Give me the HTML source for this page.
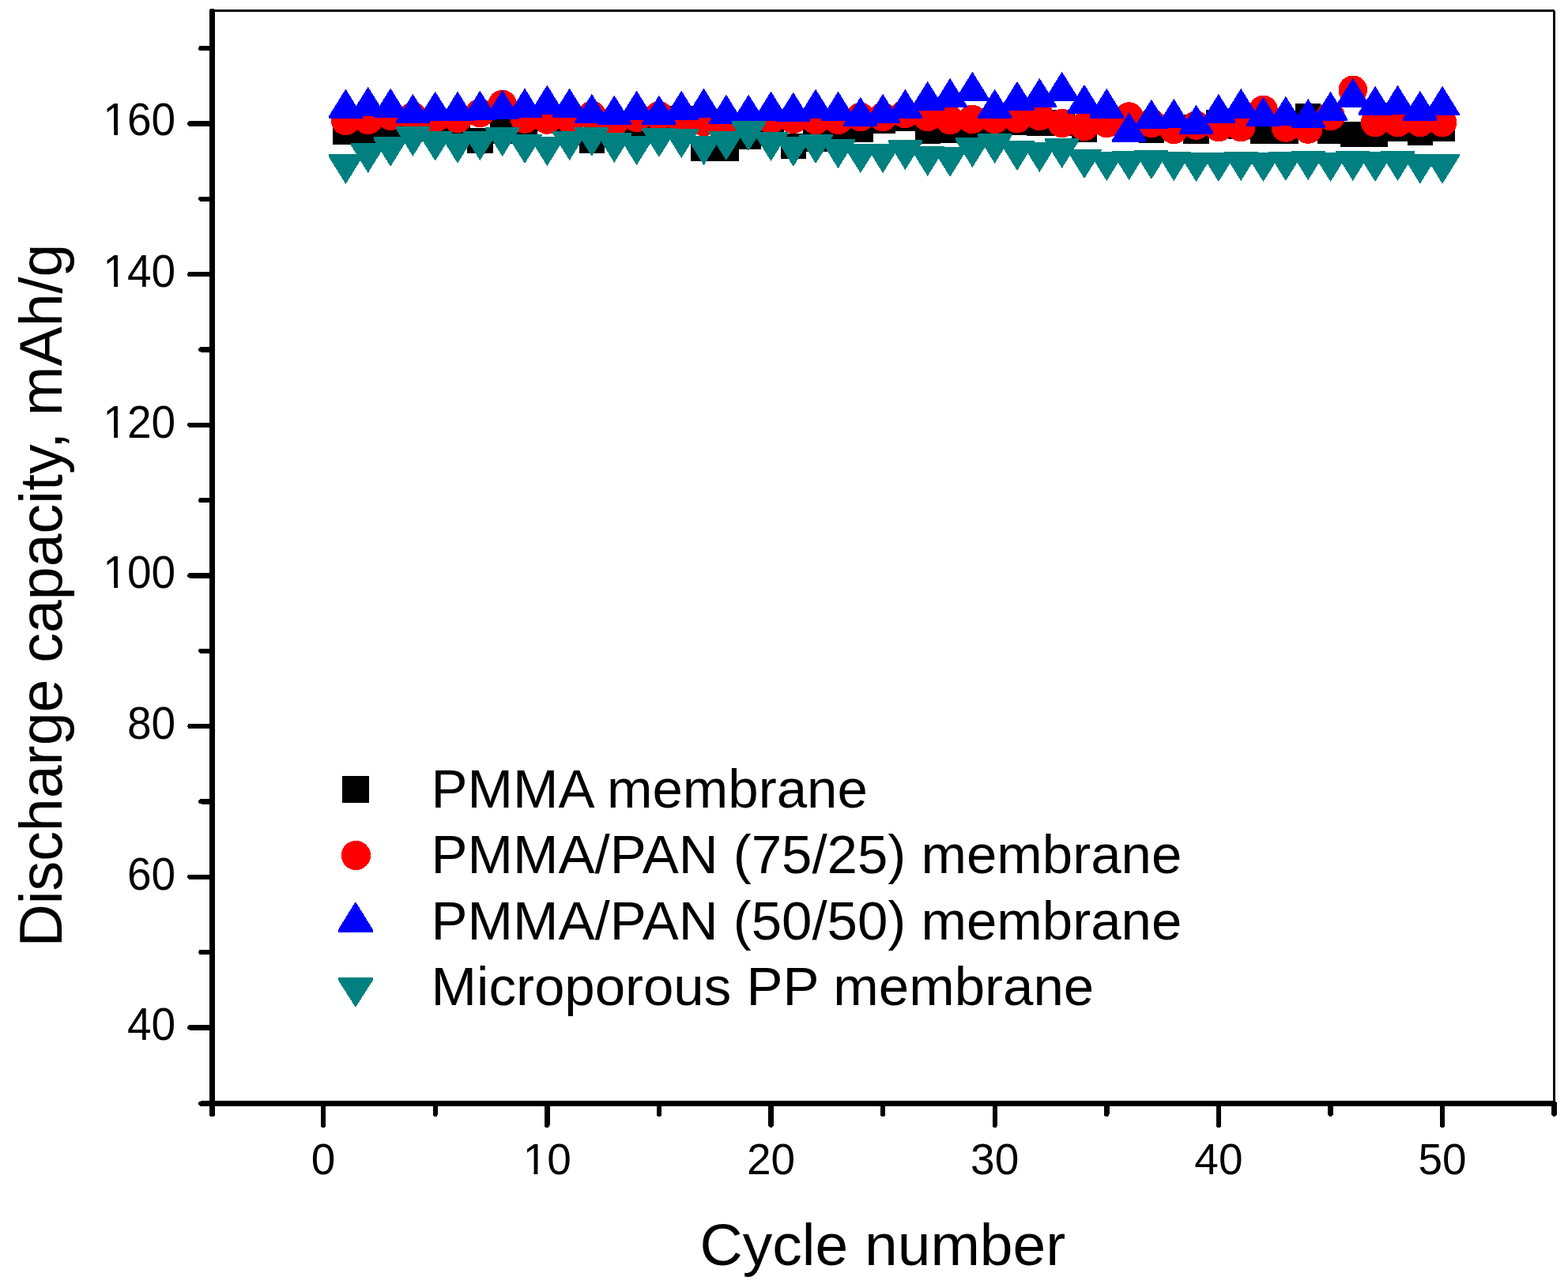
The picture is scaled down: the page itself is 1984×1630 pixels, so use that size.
<!DOCTYPE html>
<html><head><meta charset="utf-8"><title>Discharge capacity vs cycle number</title>
<style>html,body{margin:0;padding:0;background:#fff;}svg{display:block;}</style></head>
<body><svg width="1984" height="1630" viewBox="0 0 1984 1630">
<rect width="1984" height="1630" fill="#fff"/>
<g shape-rendering="crispEdges">
<g fill="#000"><rect x="421.2" y="150.5" width="32.4" height="32.4"/><rect x="449.5" y="149.8" width="32.4" height="32.4"/><rect x="477.9" y="148.8" width="32.4" height="32.4"/><rect x="506.2" y="146.8" width="32.4" height="32.4"/><rect x="534.5" y="146.8" width="32.4" height="32.4"/><rect x="562.8" y="147.8" width="32.4" height="32.4"/><rect x="591.1" y="161.6" width="32.4" height="32.4"/><rect x="619.5" y="149.8" width="32.4" height="32.4"/><rect x="647.8" y="146.8" width="32.4" height="32.4"/><rect x="676.1" y="133.8" width="32.4" height="32.4"/><rect x="704.4" y="146.8" width="32.4" height="32.4"/><rect x="732.7" y="161.6" width="32.4" height="32.4"/><rect x="761.1" y="141.8" width="32.4" height="32.4"/><rect x="789.4" y="146.8" width="32.4" height="32.4"/><rect x="817.7" y="143.8" width="32.4" height="32.4"/><rect x="846" y="133.8" width="32.4" height="32.4"/><rect x="874.3" y="171.5" width="32.4" height="32.4"/><rect x="902.7" y="171.5" width="32.4" height="32.4"/><rect x="931" y="156.6" width="32.4" height="32.4"/><rect x="959.3" y="148.8" width="32.4" height="32.4"/><rect x="987.6" y="168.8" width="32.4" height="32.4"/><rect x="1015.9" y="159.6" width="32.4" height="32.4"/><rect x="1044.3" y="143.8" width="32.4" height="32.4"/><rect x="1072.6" y="147.5" width="32.4" height="32.4"/><rect x="1100.9" y="136.4" width="32.4" height="32.4"/><rect x="1129.2" y="134" width="32.4" height="32.4"/><rect x="1157.5" y="149.6" width="32.4" height="32.4"/><rect x="1185.9" y="148.6" width="32.4" height="32.4"/><rect x="1214.2" y="143.8" width="32.4" height="32.4"/><rect x="1242.5" y="143.8" width="32.4" height="32.4"/><rect x="1270.8" y="138.5" width="32.4" height="32.4"/><rect x="1299.1" y="139.3" width="32.4" height="32.4"/><rect x="1327.5" y="139.1" width="32.4" height="32.4"/><rect x="1355.8" y="147.6" width="32.4" height="32.4"/><rect x="1384.1" y="136.8" width="32.4" height="32.4"/><rect x="1412.4" y="143.8" width="32.4" height="32.4"/><rect x="1440.7" y="148.6" width="32.4" height="32.4"/><rect x="1469.1" y="144.8" width="32.4" height="32.4"/><rect x="1497.4" y="149.6" width="32.4" height="32.4"/><rect x="1525.7" y="138.8" width="32.4" height="32.4"/><rect x="1554" y="143.8" width="32.4" height="32.4"/><rect x="1582.3" y="149.6" width="32.4" height="32.4"/><rect x="1610.7" y="149.6" width="32.4" height="32.4"/><rect x="1639" y="130.8" width="32.4" height="32.4"/><rect x="1667.3" y="149.6" width="32.4" height="32.4"/><rect x="1695.6" y="153.8" width="32.4" height="32.4"/><rect x="1723.9" y="153.5" width="32.4" height="32.4"/><rect x="1752.3" y="146.1" width="32.4" height="32.4"/><rect x="1780.6" y="151.6" width="32.4" height="32.4"/><rect x="1808.9" y="146.6" width="32.4" height="32.4"/></g>
<g fill="#ff0000"><circle cx="437.4" cy="152.9" r="18.3"/><circle cx="465.7" cy="151.9" r="18.3"/><circle cx="494.1" cy="146.6" r="18.3"/><circle cx="522.4" cy="147.5" r="18.3"/><circle cx="550.7" cy="149.5" r="18.3"/><circle cx="579" cy="150" r="18.3"/><circle cx="607.3" cy="143" r="18.3"/><circle cx="635.7" cy="132" r="18.3"/><circle cx="664" cy="150.5" r="18.3"/><circle cx="692.3" cy="151.5" r="18.3"/><circle cx="720.6" cy="150.5" r="18.3"/><circle cx="748.9" cy="146" r="18.3"/><circle cx="777.3" cy="154" r="18.3"/><circle cx="805.6" cy="149" r="18.3"/><circle cx="833.9" cy="146.5" r="18.3"/><circle cx="862.2" cy="152" r="18.3"/><circle cx="890.5" cy="154" r="18.3"/><circle cx="918.9" cy="155" r="18.3"/><circle cx="947.2" cy="155" r="18.3"/><circle cx="975.5" cy="151" r="18.3"/><circle cx="1003.8" cy="150.9" r="18.3"/><circle cx="1032.1" cy="151.9" r="18.3"/><circle cx="1060.5" cy="151.9" r="18.3"/><circle cx="1088.8" cy="148" r="18.3"/><circle cx="1117.1" cy="148" r="18.3"/><circle cx="1145.4" cy="144" r="18.3"/><circle cx="1173.7" cy="148" r="18.3"/><circle cx="1202.1" cy="152" r="18.3"/><circle cx="1230.4" cy="151" r="18.3"/><circle cx="1258.7" cy="151" r="18.3"/><circle cx="1287" cy="150" r="18.3"/><circle cx="1315.3" cy="147" r="18.3"/><circle cx="1343.7" cy="156" r="18.3"/><circle cx="1372" cy="160" r="18.3"/><circle cx="1400.3" cy="156" r="18.3"/><circle cx="1428.6" cy="147.6" r="18.3"/><circle cx="1456.9" cy="156" r="18.3"/><circle cx="1485.3" cy="164" r="18.3"/><circle cx="1513.6" cy="158.5" r="18.3"/><circle cx="1541.9" cy="161" r="18.3"/><circle cx="1570.2" cy="161" r="18.3"/><circle cx="1598.5" cy="139" r="18.3"/><circle cx="1626.9" cy="161.5" r="18.3"/><circle cx="1655.2" cy="163.5" r="18.3"/><circle cx="1683.5" cy="147" r="18.3"/><circle cx="1711.8" cy="113.8" r="18.3"/><circle cx="1740.1" cy="155" r="18.3"/><circle cx="1768.5" cy="155" r="18.3"/><circle cx="1796.8" cy="155" r="18.3"/><circle cx="1825.1" cy="155" r="18.3"/></g>
<g fill="#0000ff"><path d="M437.4 112.6L458.9 147.3L458.9 150.2L415.9 150.2L415.9 147.3Z"/><path d="M465.7 109.8L487.2 144.5L487.2 147.4L444.2 147.4L444.2 144.5Z"/><path d="M494.1 111.6L515.6 146.3L515.6 149.2L472.6 149.2L472.6 146.3Z"/><path d="M522.4 118.8L543.9 153.5L543.9 156.4L500.9 156.4L500.9 153.5Z"/><path d="M550.7 115.6L572.2 150.3L572.2 153.2L529.2 153.2L529.2 150.3Z"/><path d="M579 115.6L600.5 150.3L600.5 153.2L557.5 153.2L557.5 150.3Z"/><path d="M607.3 114.6L628.8 149.3L628.8 152.2L585.8 152.2L585.8 149.3Z"/><path d="M635.7 113.8L657.2 148.5L657.2 151.4L614.2 151.4L614.2 148.5Z"/><path d="M664 111.6L685.5 146.3L685.5 149.2L642.5 149.2L642.5 146.3Z"/><path d="M692.3 107.7L713.8 142.4L713.8 145.3L670.8 145.3L670.8 142.4Z"/><path d="M720.6 111.6L742.1 146.3L742.1 149.2L699.1 149.2L699.1 146.3Z"/><path d="M748.9 118.8L770.4 153.5L770.4 156.4L727.4 156.4L727.4 153.5Z"/><path d="M777.3 120.6L798.8 155.3L798.8 158.2L755.8 158.2L755.8 155.3Z"/><path d="M805.6 114.6L827.1 149.3L827.1 152.2L784.1 152.2L784.1 149.3Z"/><path d="M833.9 120.6L855.4 155.3L855.4 158.2L812.4 158.2L812.4 155.3Z"/><path d="M862.2 114.6L883.7 149.3L883.7 152.2L840.7 152.2L840.7 149.3Z"/><path d="M890.5 111.6L912 146.3L912 149.2L869 149.2L869 146.3Z"/><path d="M918.9 119.6L940.4 154.3L940.4 157.2L897.4 157.2L897.4 154.3Z"/><path d="M947.2 119.6L968.7 154.3L968.7 157.2L925.7 157.2L925.7 154.3Z"/><path d="M975.5 115.6L997 150.3L997 153.2L954 153.2L954 150.3Z"/><path d="M1003.8 116.6L1025.3 151.3L1025.3 154.2L982.3 154.2L982.3 151.3Z"/><path d="M1032.1 112.6L1053.6 147.3L1053.6 150.2L1010.6 150.2L1010.6 147.3Z"/><path d="M1060.5 115.6L1082 150.3L1082 153.2L1039 153.2L1039 150.3Z"/><path d="M1088.8 122.7L1110.3 157.4L1110.3 160.3L1067.3 160.3L1067.3 157.4Z"/><path d="M1117.1 118.6L1138.6 153.3L1138.6 156.2L1095.6 156.2L1095.6 153.3Z"/><path d="M1145.4 112.7L1166.9 147.4L1166.9 150.3L1123.9 150.3L1123.9 147.4Z"/><path d="M1173.7 102.8L1195.2 137.5L1195.2 140.4L1152.2 140.4L1152.2 137.5Z"/><path d="M1202.1 98.8L1223.6 133.5L1223.6 136.4L1180.6 136.4L1180.6 133.5Z"/><path d="M1230.4 90.7L1251.9 125.4L1251.9 128.3L1208.9 128.3L1208.9 125.4Z"/><path d="M1258.7 112.7L1280.2 147.4L1280.2 150.3L1237.2 150.3L1237.2 147.4Z"/><path d="M1287 102.8L1308.5 137.5L1308.5 140.4L1265.5 140.4L1265.5 137.5Z"/><path d="M1315.3 98.8L1336.8 133.5L1336.8 136.4L1293.8 136.4L1293.8 133.5Z"/><path d="M1343.7 90.7L1365.2 125.4L1365.2 128.3L1322.2 128.3L1322.2 125.4Z"/><path d="M1372 106.8L1393.5 141.5L1393.5 144.4L1350.5 144.4L1350.5 141.5Z"/><path d="M1400.3 111.9L1421.8 146.6L1421.8 149.5L1378.8 149.5L1378.8 146.6Z"/><path d="M1428.6 142.1L1450.1 176.8L1450.1 179.7L1407.1 179.7L1407.1 176.8Z"/><path d="M1456.9 125.8L1478.4 160.5L1478.4 163.4L1435.4 163.4L1435.4 160.5Z"/><path d="M1485.3 124.8L1506.8 159.5L1506.8 162.4L1463.8 162.4L1463.8 159.5Z"/><path d="M1513.6 132.5L1535.1 167.2L1535.1 170.1L1492.1 170.1L1492.1 167.2Z"/><path d="M1541.9 118.7L1563.4 153.4L1563.4 156.3L1520.4 156.3L1520.4 153.4Z"/><path d="M1570.2 111.9L1591.7 146.6L1591.7 149.5L1548.7 149.5L1548.7 146.6Z"/><path d="M1598.5 122.7L1620 157.4L1620 160.3L1577 160.3L1577 157.4Z"/><path d="M1626.9 121.7L1648.4 156.4L1648.4 159.3L1605.4 159.3L1605.4 156.4Z"/><path d="M1655.2 124.8L1676.7 159.5L1676.7 162.4L1633.7 162.4L1633.7 159.5Z"/><path d="M1683.5 115.7L1705 150.4L1705 153.3L1662 153.3L1662 150.4Z"/><path d="M1711.8 98.8L1733.3 133.5L1733.3 136.4L1690.3 136.4L1690.3 133.5Z"/><path d="M1740.1 108.8L1761.6 143.5L1761.6 146.4L1718.6 146.4L1718.6 143.5Z"/><path d="M1768.5 107.8L1790 142.5L1790 145.4L1747 145.4L1747 142.5Z"/><path d="M1796.8 114.9L1818.3 149.6L1818.3 152.5L1775.3 152.5L1775.3 149.6Z"/><path d="M1825.1 108.8L1846.6 143.5L1846.6 146.4L1803.6 146.4L1803.6 143.5Z"/></g>
<g fill="#008080"><path d="M437.4 233L458.9 198.3L458.9 195.4L415.9 195.4L415.9 198.3Z"/><path d="M465.7 218.9L487.2 184.2L487.2 181.3L444.2 181.3L444.2 184.2Z"/><path d="M494.1 210.9L515.6 176.2L515.6 173.3L472.6 173.3L472.6 176.2Z"/><path d="M522.4 197.8L543.9 163.1L543.9 160.2L500.9 160.2L500.9 163.1Z"/><path d="M550.7 203.8L572.2 169.1L572.2 166.2L529.2 166.2L529.2 169.1Z"/><path d="M579 206.8L600.5 172.1L600.5 169.2L557.5 169.2L557.5 172.1Z"/><path d="M607.3 203.1L628.8 168.4L628.8 165.5L585.8 165.5L585.8 168.4Z"/><path d="M635.7 198.1L657.2 163.4L657.2 160.5L614.2 160.5L614.2 163.4Z"/><path d="M664 207.1L685.5 172.4L685.5 169.5L642.5 169.5L642.5 172.4Z"/><path d="M692.3 210.2L713.8 175.5L713.8 172.6L670.8 172.6L670.8 175.5Z"/><path d="M720.6 203.1L742.1 168.4L742.1 165.5L699.1 165.5L699.1 168.4Z"/><path d="M748.9 198.1L770.4 163.4L770.4 160.5L727.4 160.5L727.4 163.4Z"/><path d="M777.3 205.9L798.8 171.2L798.8 168.3L755.8 168.3L755.8 171.2Z"/><path d="M805.6 209.2L827.1 174.5L827.1 171.6L784.1 171.6L784.1 174.5Z"/><path d="M833.9 199.1L855.4 164.4L855.4 161.5L812.4 161.5L812.4 164.4Z"/><path d="M862.2 200.1L883.7 165.4L883.7 162.5L840.7 162.5L840.7 165.4Z"/><path d="M890.5 209.2L912 174.5L912 171.6L869 171.6L869 174.5Z"/><path d="M918.9 203.1L940.4 168.4L940.4 165.5L897.4 165.5L897.4 168.4Z"/><path d="M947.2 191L968.7 156.3L968.7 153.4L925.7 153.4L925.7 156.3Z"/><path d="M975.5 204.1L997 169.4L997 166.5L954 166.5L954 169.4Z"/><path d="M1003.8 210.9L1025.3 176.2L1025.3 173.3L982.3 173.3L982.3 176.2Z"/><path d="M1032.1 207.1L1053.6 172.4L1053.6 169.5L1010.6 169.5L1010.6 172.4Z"/><path d="M1060.5 213.2L1082 178.5L1082 175.6L1039 175.6L1039 178.5Z"/><path d="M1088.8 219.2L1110.3 184.5L1110.3 181.6L1067.3 181.6L1067.3 184.5Z"/><path d="M1117.1 219.2L1138.6 184.5L1138.6 181.6L1095.6 181.6L1095.6 184.5Z"/><path d="M1145.4 215L1166.9 180.3L1166.9 177.4L1123.9 177.4L1123.9 180.3Z"/><path d="M1173.7 223L1195.2 188.3L1195.2 185.4L1152.2 185.4L1152.2 188.3Z"/><path d="M1202.1 224L1223.6 189.3L1223.6 186.4L1180.6 186.4L1180.6 189.3Z"/><path d="M1230.4 212L1251.9 177.3L1251.9 174.4L1208.9 174.4L1208.9 177.3Z"/><path d="M1258.7 206.9L1280.2 172.2L1280.2 169.3L1237.2 169.3L1237.2 172.2Z"/><path d="M1287 216L1308.5 181.3L1308.5 178.4L1265.5 178.4L1265.5 181.3Z"/><path d="M1315.3 218L1336.8 183.3L1336.8 180.4L1293.8 180.4L1293.8 183.3Z"/><path d="M1343.7 213L1365.2 178.3L1365.2 175.4L1322.2 175.4L1322.2 178.3Z"/><path d="M1372 226.1L1393.5 191.4L1393.5 188.5L1350.5 188.5L1350.5 191.4Z"/><path d="M1400.3 229.1L1421.8 194.4L1421.8 191.5L1378.8 191.5L1378.8 194.4Z"/><path d="M1428.6 228.1L1450.1 193.4L1450.1 190.5L1407.1 190.5L1407.1 193.4Z"/><path d="M1456.9 227.1L1478.4 192.4L1478.4 189.5L1435.4 189.5L1435.4 192.4Z"/><path d="M1485.3 229.1L1506.8 194.4L1506.8 191.5L1463.8 191.5L1463.8 194.4Z"/><path d="M1513.6 230.1L1535.1 195.4L1535.1 192.5L1492.1 192.5L1492.1 195.4Z"/><path d="M1541.9 230.1L1563.4 195.4L1563.4 192.5L1520.4 192.5L1520.4 195.4Z"/><path d="M1570.2 229.1L1591.7 194.4L1591.7 191.5L1548.7 191.5L1548.7 194.4Z"/><path d="M1598.5 230.1L1620 195.4L1620 192.5L1577 192.5L1577 195.4Z"/><path d="M1626.9 229.1L1648.4 194.4L1648.4 191.5L1605.4 191.5L1605.4 194.4Z"/><path d="M1655.2 228.1L1676.7 193.4L1676.7 190.5L1633.7 190.5L1633.7 193.4Z"/><path d="M1683.5 230.1L1705 195.4L1705 192.5L1662 192.5L1662 195.4Z"/><path d="M1711.8 229L1733.3 194.3L1733.3 191.4L1690.3 191.4L1690.3 194.3Z"/><path d="M1740.1 230L1761.6 195.3L1761.6 192.4L1718.6 192.4L1718.6 195.3Z"/><path d="M1768.5 229L1790 194.3L1790 191.4L1747 191.4L1747 194.3Z"/><path d="M1796.8 232.7L1818.3 198L1818.3 195.1L1775.3 195.1L1775.3 198Z"/><path d="M1825.1 232.7L1846.6 198L1846.6 195.1L1803.6 195.1L1803.6 198Z"/></g>
</g>
<g stroke="#000" fill="none" shape-rendering="crispEdges"><line x1="268.5" y1="13.5" x2="1966.5" y2="13.5" stroke-width="3"/><line x1="1966.5" y1="13.5" x2="1966.5" y2="1396.6" stroke-width="3"/><line x1="268.5" y1="14" x2="268.5" y2="1410" stroke-width="6.6" stroke-linecap="round"/><line x1="268.5" y1="1396.6" x2="1968" y2="1396.6" stroke-width="6.6"/><line x1="254.5" y1="1396.6" x2="268.5" y2="1396.6" stroke-width="6.4" stroke-linecap="round"/><line x1="240.5" y1="1300.3" x2="268.5" y2="1300.3" stroke-width="6.4" stroke-linecap="round"/><line x1="254.5" y1="1205" x2="268.5" y2="1205" stroke-width="6.4" stroke-linecap="round"/><line x1="240.5" y1="1109.7" x2="268.5" y2="1109.7" stroke-width="6.4" stroke-linecap="round"/><line x1="254.5" y1="1014.3" x2="268.5" y2="1014.3" stroke-width="6.4" stroke-linecap="round"/><line x1="240.5" y1="919" x2="268.5" y2="919" stroke-width="6.4" stroke-linecap="round"/><line x1="254.5" y1="823.7" x2="268.5" y2="823.7" stroke-width="6.4" stroke-linecap="round"/><line x1="240.5" y1="728.4" x2="268.5" y2="728.4" stroke-width="6.4" stroke-linecap="round"/><line x1="254.5" y1="633.1" x2="268.5" y2="633.1" stroke-width="6.4" stroke-linecap="round"/><line x1="240.5" y1="537.8" x2="268.5" y2="537.8" stroke-width="6.4" stroke-linecap="round"/><line x1="254.5" y1="442.4" x2="268.5" y2="442.4" stroke-width="6.4" stroke-linecap="round"/><line x1="240.5" y1="347.1" x2="268.5" y2="347.1" stroke-width="6.4" stroke-linecap="round"/><line x1="254.5" y1="251.8" x2="268.5" y2="251.8" stroke-width="6.4" stroke-linecap="round"/><line x1="240.5" y1="156.5" x2="268.5" y2="156.5" stroke-width="6.4" stroke-linecap="round"/><line x1="254.5" y1="61.1" x2="268.5" y2="61.1" stroke-width="6.4" stroke-linecap="round"/><line x1="409.1" y1="1396.6" x2="409.1" y2="1423.8" stroke-width="6.4" stroke-linecap="round"/><line x1="550.7" y1="1396.6" x2="550.7" y2="1409.8" stroke-width="6.4" stroke-linecap="round"/><line x1="692.3" y1="1396.6" x2="692.3" y2="1423.8" stroke-width="6.4" stroke-linecap="round"/><line x1="833.9" y1="1396.6" x2="833.9" y2="1409.8" stroke-width="6.4" stroke-linecap="round"/><line x1="975.5" y1="1396.6" x2="975.5" y2="1423.8" stroke-width="6.4" stroke-linecap="round"/><line x1="1117.1" y1="1396.6" x2="1117.1" y2="1409.8" stroke-width="6.4" stroke-linecap="round"/><line x1="1258.7" y1="1396.6" x2="1258.7" y2="1423.8" stroke-width="6.4" stroke-linecap="round"/><line x1="1400.3" y1="1396.6" x2="1400.3" y2="1409.8" stroke-width="6.4" stroke-linecap="round"/><line x1="1541.9" y1="1396.6" x2="1541.9" y2="1423.8" stroke-width="6.4" stroke-linecap="round"/><line x1="1683.5" y1="1396.6" x2="1683.5" y2="1409.8" stroke-width="6.4" stroke-linecap="round"/><line x1="1825.1" y1="1396.6" x2="1825.1" y2="1423.8" stroke-width="6.4" stroke-linecap="round"/><line x1="1966.5" y1="1396.6" x2="1966.5" y2="1409.8" stroke-width="6.4" stroke-linecap="round"/></g>
<g font-family="'Liberation Sans', Arial, sans-serif" fill="#000"><text x="222.1" y="1315.6" text-anchor="end" font-size="55" transform="matrix(1 0 0 1.03 0 -38.90)">40</text><text x="222.1" y="1125" text-anchor="end" font-size="55" transform="matrix(1 0 0 1.03 0 -33.18)">60</text><text x="222.1" y="934.3" text-anchor="end" font-size="55" transform="matrix(1 0 0 1.03 0 -27.46)">80</text><text x="222.1" y="743.7" text-anchor="end" font-size="55" transform="matrix(1 0 0 1.03 0 -21.74)">100</text><path fill="#fff" transform="matrix(1 0 0 1.03 0 -21.74)" d="M132.8 737.6H144.2V745.2H132.8ZM149 737.6H161.2V745.2H149Z"/><text x="222.1" y="553" text-anchor="end" font-size="55" transform="matrix(1 0 0 1.03 0 -16.02)">120</text><path fill="#fff" transform="matrix(1 0 0 1.03 0 -16.02)" d="M132.8 546.9H144.2V554.5H132.8ZM149 546.9H161.2V554.5H149Z"/><text x="222.1" y="362.4" text-anchor="end" font-size="55" transform="matrix(1 0 0 1.03 0 -10.30)">140</text><path fill="#fff" transform="matrix(1 0 0 1.03 0 -10.30)" d="M132.8 356.3H144.2V363.9H132.8ZM149 356.3H161.2V363.9H149Z"/><text x="222.1" y="170.3" text-anchor="end" font-size="55" transform="matrix(1 0 0 1.03 0 -4.54)">160</text><path fill="#fff" transform="matrix(1 0 0 1.03 0 -4.54)" d="M132.8 164.2H144.2V171.8H132.8ZM149 164.2H161.2V171.8H149Z"/><text x="409.1" y="1486" text-anchor="middle" font-size="55" transform="matrix(1 0 0 1.022 0 -32.27)">0</text><text x="692.3" y="1486" text-anchor="middle" font-size="55" transform="matrix(1 0 0 1.022 0 -32.27)">10</text><path fill="#fff" transform="matrix(1 0 0 1.022 0 -32.27)" d="M664.1 1479.9H675.5V1487.5H664.1ZM680.4 1479.9H692.6V1487.5H680.4Z"/><text x="975.5" y="1486" text-anchor="middle" font-size="55" transform="matrix(1 0 0 1.022 0 -32.27)">20</text><text x="1258.7" y="1486" text-anchor="middle" font-size="55" transform="matrix(1 0 0 1.022 0 -32.27)">30</text><text x="1541.9" y="1486" text-anchor="middle" font-size="55" transform="matrix(1 0 0 1.022 0 -32.27)">40</text><text x="1825.1" y="1486" text-anchor="middle" font-size="55" transform="matrix(1 0 0 1.022 0 -32.27)">50</text><text x="885.6" y="1601.3" font-size="75">Cycle number</text><text transform="translate(78 1198.6) rotate(-90)" font-size="75.3">Discharge capacity, mAh/g</text><text x="545.6" y="1021.8" font-size="69">PMMA membrane</text><text x="545.6" y="1104.8" font-size="69">PMMA/PAN (75/25) membrane</text><text x="545.6" y="1188.9" font-size="69">PMMA/PAN (50/50) membrane</text><text x="545.6" y="1271.9" font-size="69">Microporous PP membrane</text></g>
<g shape-rendering="crispEdges"><rect x="433" y="982" width="34" height="34" fill="#000"/><circle cx="450.4" cy="1082.5" r="18.6" fill="#ff0000"/><path d="M449.9 1140.9L471.9 1176.6L471.9 1180L427.9 1180L427.9 1176.6Z" fill="#0000ff"/><path d="M427.9 1237L471.9 1237L471.9 1240.4L449.9 1274.9L427.9 1240.4Z" fill="#008080"/></g>
</svg></body></html>
